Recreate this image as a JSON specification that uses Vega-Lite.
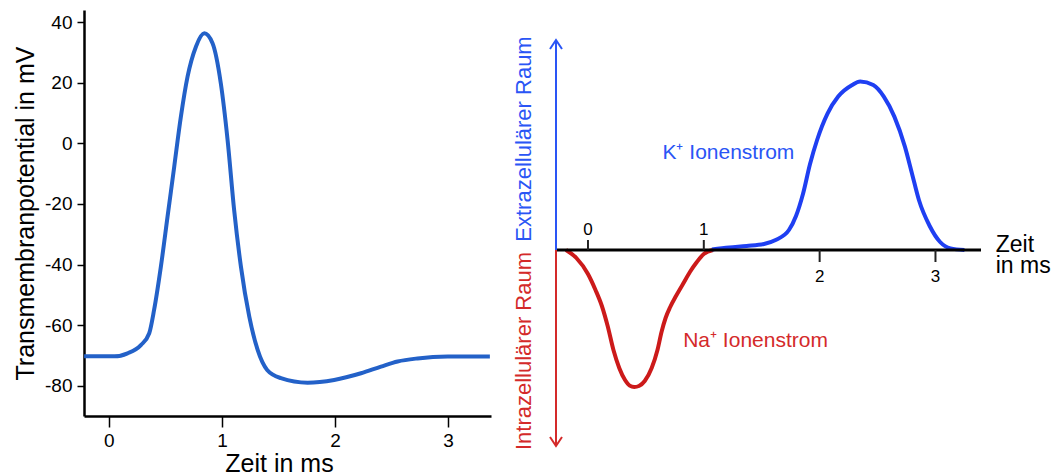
{
  "$schema": "https://vega.github.io/schema/vega-lite/v6.json",
  "background": "white",
  "padding": {"left": 13, "top": 10, "right": 2, "bottom": 0},
  "bounds": "flush",
  "spacing": 65,
  "config": {
    "font": "Liberation Sans",
    "view": {"stroke": null},
    "axis": {"grid": false}
  },
  "datasets": {
    "ap": [
      {"t": -0.219, "v": -70.3}, {"t": 0.05, "v": -70.3}, {"t": 0.165, "v": -69.3},
      {"t": 0.283, "v": -66.6}, {"t": 0.357, "v": -62.7}, {"t": 0.4, "v": -55},
      {"t": 0.46, "v": -40.7}, {"t": 0.519, "v": -24.2}, {"t": 0.578, "v": -7.7},
      {"t": 0.637, "v": 8.8}, {"t": 0.696, "v": 22}, {"t": 0.77, "v": 31.9},
      {"t": 0.844, "v": 36.3}, {"t": 0.917, "v": 33}, {"t": 0.99, "v": 19.8},
      {"t": 1.05, "v": 1.1}, {"t": 1.108, "v": -22}, {"t": 1.168, "v": -40.7},
      {"t": 1.242, "v": -57.2}, {"t": 1.316, "v": -68.2}, {"t": 1.4, "v": -74.8},
      {"t": 1.522, "v": -77.5}, {"t": 1.758, "v": -79}, {"t": 1.993, "v": -78.1},
      {"t": 2.23, "v": -75.9}, {"t": 2.407, "v": -73.7}, {"t": 2.554, "v": -72},
      {"t": 2.73, "v": -71}, {"t": 2.997, "v": -70.4}, {"t": 3.37, "v": -70.4}
    ],
    "na": [
      {"t": -0.19, "v": 0}, {"t": -0.1, "v": -4}, {"t": 0.0, "v": -12},
      {"t": 0.065, "v": -20}, {"t": 0.12, "v": -28}, {"t": 0.17, "v": -38},
      {"t": 0.22, "v": -50}, {"t": 0.27, "v": -59}, {"t": 0.32, "v": -65},
      {"t": 0.36, "v": -67.8}, {"t": 0.4, "v": -68.5}, {"t": 0.44, "v": -68},
      {"t": 0.49, "v": -65.5}, {"t": 0.55, "v": -59}, {"t": 0.6, "v": -50},
      {"t": 0.635, "v": -41}, {"t": 0.67, "v": -34}, {"t": 0.71, "v": -28.5},
      {"t": 0.76, "v": -23}, {"t": 0.82, "v": -17}, {"t": 0.88, "v": -11},
      {"t": 0.94, "v": -6}, {"t": 1.0, "v": -2}, {"t": 1.08, "v": 0}
    ],
    "k": [
      {"t": 1.07, "v": 0.3}, {"t": 1.22, "v": 1.3}, {"t": 1.37, "v": 2},
      {"t": 1.52, "v": 3}, {"t": 1.62, "v": 5}, {"t": 1.735, "v": 10},
      {"t": 1.796, "v": 17}, {"t": 1.856, "v": 28}, {"t": 1.917, "v": 43},
      {"t": 1.978, "v": 55}, {"t": 2.069, "v": 68.3}, {"t": 2.16, "v": 76.7},
      {"t": 2.281, "v": 82.5}, {"t": 2.35, "v": 84.2}, {"t": 2.463, "v": 82.5},
      {"t": 2.554, "v": 76.7}, {"t": 2.645, "v": 66.7}, {"t": 2.736, "v": 51.7},
      {"t": 2.797, "v": 38.3}, {"t": 2.857, "v": 25}, {"t": 2.95, "v": 12},
      {"t": 3.04, "v": 4}, {"t": 3.13, "v": 0.8}, {"t": 3.25, "v": 0}
    ],
    "ticksUp": [{"t": 0, "lab": "0"}, {"t": 1, "lab": "1"}],
    "ticksDown": [{"t": 2, "lab": "2"}, {"t": 3, "lab": "3"}]
  },
  "hconcat": [
    {
      "width": 407,
      "height": 406,
      "data": {"name": "ap"},
      "mark": {"type": "line", "color": "#2361c8", "strokeWidth": 4, "interpolate": "monotone"},
      "encoding": {
        "x": {
          "field": "t", "type": "quantitative",
          "scale": {"domain": [-0.22, 3.38], "nice": false, "zero": false},
          "axis": {
            "values": [0, 1, 2, 3], "title": "Zeit in ms", "titleX": 195,
            "titleFontSize": 25, "titleFontWeight": "normal", "titleColor": "black",
            "labelFontSize": 19, "labelColor": "black", "labelPadding": 4, "labelFlush": false,
            "domainColor": "black", "domainWidth": 2.5,
            "tickColor": "black", "tickWidth": 1.5, "tickSize": 11, "titlePadding": 1
          }
        },
        "y": {
          "field": "v", "type": "quantitative",
          "scale": {"domain": [-90, 44], "nice": false, "zero": false},
          "axis": {
            "values": [-80, -60, -40, -20, 0, 20, 40], "title": "Transmembranpotential in mV",
            "labelExpr": "'' + datum.value",
            "titleFontSize": 25, "titleFontWeight": "normal", "titleColor": "black",
            "labelFontSize": 19, "labelColor": "black", "labelPadding": 5, "labelFlush": false,
            "domainColor": "black", "domainWidth": 2.5,
            "tickColor": "black", "tickWidth": 1.5, "tickSize": 7, "titlePadding": 6
          }
        }
      }
    },
    {
      "width": 425,
      "height": 436,
      "encoding": {
        "x": {"type": "quantitative", "scale": {"domain": [-0.276, 3.393], "nice": false, "zero": false}, "axis": null},
        "y": {"type": "quantitative", "scale": {"domain": [-98, 120], "nice": false, "zero": false}, "axis": null}
      },
      "layer": [
        {
          "data": {"name": "na"},
          "mark": {"type": "line", "color": "#cc1a1a", "strokeWidth": 4, "interpolate": "monotone"},
          "encoding": {"x": {"field": "t", "type": "quantitative"}, "y": {"field": "v", "type": "quantitative"}}
        },
        {
          "data": {"name": "k"},
          "mark": {"type": "line", "color": "#1f3ff2", "strokeWidth": 4, "interpolate": "monotone"},
          "encoding": {"x": {"field": "t", "type": "quantitative"}, "y": {"field": "v", "type": "quantitative"}}
        },
        {
          "data": {"values": [{}]},
          "mark": {"type": "rule", "color": "black", "strokeWidth": 3},
          "encoding": {"x": {"datum": -0.276}, "x2": {"datum": 3.393}, "y": {"datum": 0}}
        },
        {
          "data": {"name": "ticksUp"},
          "mark": {"type": "rule", "color": "#222", "strokeWidth": 2},
          "encoding": {"x": {"field": "t", "type": "quantitative"}, "y": {"datum": 0}, "y2": {"datum": 5}}
        },
        {
          "data": {"name": "ticksDown"},
          "mark": {"type": "rule", "color": "#222", "strokeWidth": 2},
          "encoding": {"x": {"field": "t", "type": "quantitative"}, "y": {"datum": 0}, "y2": {"datum": -6}}
        },
        {
          "data": {"name": "ticksUp"},
          "mark": {"type": "text", "fontSize": 17, "color": "black", "align": "center", "baseline": "alphabetic"},
          "encoding": {"x": {"field": "t", "type": "quantitative"}, "y": {"datum": 7.5}, "text": {"field": "lab"}}
        },
        {
          "data": {"name": "ticksDown"},
          "mark": {"type": "text", "fontSize": 17, "color": "black", "align": "center", "baseline": "alphabetic"},
          "encoding": {"x": {"field": "t", "type": "quantitative"}, "y": {"datum": -16.2}, "text": {"field": "lab"}}
        },
        {
          "data": {"values": [{}]},
          "mark": {"type": "rule", "color": "#2a55f5", "strokeWidth": 2},
          "encoding": {"x": {"datum": -0.276}, "y": {"datum": 0}, "y2": {"datum": 104.5}}
        },
        {
          "data": {"values": [{}]},
          "mark": {"type": "rule", "color": "#d42a2a", "strokeWidth": 2},
          "encoding": {"x": {"datum": -0.276}, "y": {"datum": 0}, "y2": {"datum": -97.5}}
        },
        {
          "data": {"values": [{}]},
          "mark": {"type": "point", "shape": "M-1,1.5L0,0L1,1.5", "filled": false, "size": 144, "strokeWidth": 2, "color": "#2a55f5", "opacity": 1},
          "encoding": {"x": {"datum": -0.276}, "y": {"datum": 105}}
        },
        {
          "data": {"values": [{}]},
          "mark": {"type": "point", "shape": "M-1,-1.5L0,0L1,-1.5", "filled": false, "size": 144, "strokeWidth": 2, "color": "#d42a2a", "opacity": 1},
          "encoding": {"x": {"datum": -0.276}, "y": {"datum": -98}}
        },
        {
          "data": {"values": [{}]},
          "mark": {"type": "text", "text": "Extrazellulärer Raum", "angle": 270, "fontSize": 22, "color": "#2a55f5", "align": "center", "baseline": "middle"},
          "encoding": {"x": {"datum": -0.548}, "y": {"datum": 55.5}}
        },
        {
          "data": {"values": [{}]},
          "mark": {"type": "text", "text": "Intrazellulärer Raum", "angle": 270, "fontSize": 22, "color": "#d42a2a", "align": "center", "baseline": "middle"},
          "encoding": {"x": {"datum": -0.548}, "y": {"datum": -50.5}}
        },
        {
          "data": {"values": [{}]},
          "mark": {"type": "text", "text": "K⁺ Ionenstrom", "fontSize": 21, "color": "#2a55f5", "align": "left", "baseline": "alphabetic"},
          "encoding": {"x": {"datum": 0.643}, "y": {"datum": 45.3}}
        },
        {
          "data": {"values": [{}]},
          "mark": {"type": "text", "text": "Na⁺ Ionenstrom", "fontSize": 21, "color": "#d42a2a", "align": "left", "baseline": "alphabetic"},
          "encoding": {"x": {"datum": 0.822}, "y": {"datum": -48.3}}
        },
        {
          "data": {"values": [{}]},
          "mark": {"type": "text", "text": ["Zeit", "in ms"], "lineHeight": 21, "fontSize": 23, "color": "black", "align": "left", "baseline": "alphabetic"},
          "encoding": {"x": {"datum": 3.52}, "y": {"datum": -0.85}}
        }
      ]
    }
  ]
}
